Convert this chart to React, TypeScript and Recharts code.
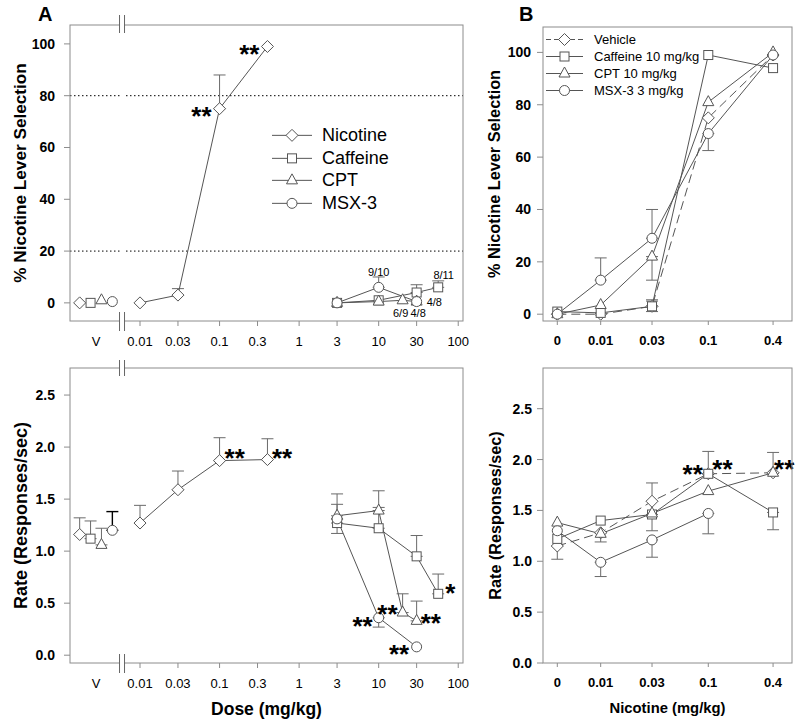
import React from 'react';
import {
  ComposedChart,
  Line,
  XAxis,
  YAxis,
  ErrorBar,
  ReferenceLine,
  ReferenceDot,
  Legend,
} from 'recharts';

type Err = [number, number] | null; // [below, above]

// ---------- Panel A: dose-effect curves ----------
const aNames = ['Nicotine', 'Caffeine', 'CPT', 'MSX-3'];

const nicotineDoses = [0.01, 0.03, 0.1, 0.4];
const caffeineDoses = [3, 10, 30, 56];
const cptDoses = [3, 10, 20, 30];
const msxDoses = [3, 10, 30];

// vehicle tests, same order as aNames
const vehicleSel = [0, 0, 1, 0.5];
const vehicleSelErr: Err[] = [null, null, null, null];
const vehicleRate = [1.16, 1.12, 1.06, 1.2];
const vehicleRateErr: Err[] = [[0, 0.16], [0, 0.17], [0, 0.16], [0, 0.18]];

const nicotineSel = [0, 3, 75, 99];
const nicotineSelErr: Err[] = [null, [0, 2.5], [0, 13], null];
const nicotineRate = [1.27, 1.59, 1.87, 1.88];
const nicotineRateErr: Err[] = [[0, 0.17], [0, 0.18], [0, 0.22], [0, 0.2]];

const caffeineSel = [0, 1, 4, 6];
const caffeineSelErr: Err[] = [null, null, [0, 3], [0, 2.5]];
const caffeineRate = [1.27, 1.22, 0.95, 0.59];
const caffeineRateErr: Err[] = [[0.1, 0], [0, 0.2], [0, 0.2], [0, 0.19]];

const cptSel = [0, 0.5, 1, 0.5];
const cptSelErr: Err[] = [null, null, null, null];
const cptRate = [1.34, 1.39, 0.41, 0.33];
const cptRateErr: Err[] = [[0, 0.11], [0, 0.19], [0, 0.18], [0, 0.19]];

const msxSel = [0, 6, 0.5];
const msxSelErr: Err[] = [null, [0, 4], null];
const msxRate = [1.31, 0.36, 0.08];
const msxRateErr: Err[] = [[0, 0.24], [0.09, 0], null];

// ---------- Panel B: nicotine after pretreatment ----------
const bNames = ['Vehicle', 'Caffeine 10 mg/kg', 'CPT 10 mg/kg', 'MSX-3 3 mg/kg'];
const nicotineTestDoses = [0, 0.01, 0.03, 0.1, 0.4];

const bVehicleSel = [0, 0, 3, 75, 99];
const bVehicleSelErr: Err[] = [null, null, [0, 2.5], null, null];
const bCaffeineSel = [1, 0.5, 3, 99, 94];
const bCaffeineSelErr: Err[] = [null, null, [2, 2], null, null];
const bCptSel = [0, 3.5, 22, 81, 100];
const bCptSelErr: Err[] = [null, null, [9, 0], null, null];
const bMsxSel = [0, 13, 29, 69, 99];
const bMsxSelErr: Err[] = [null, [0, 8.5], [0, 11], [6.5, 0], null];

const bVehicleRate = [1.15, 1.28, 1.59, 1.86, 1.87];
const bVehicleRateErr: Err[] = [[0.13, 0], [0.09, 0], [0, 0.18], null, [0, 0.2]];
const bCaffeineRate = [1.22, 1.4, 1.46, 1.86, 1.48];
const bCaffeineRateErr: Err[] = [null, null, [0.16, 0], [0, 0.22], [0.17, 0]];
const bCptRate = [1.38, 1.27, 1.47, 1.69, 1.87];
const bCptRateErr: Err[] = [null, null, null, null, null];
const bMsxRate: (number | null)[] = [1.3, 0.99, 1.21, 1.47, null];
const bMsxRateErr: Err[] = [null, [0.14, 0], [0.17, 0], [0.2, 0], null];

// ---------- ticks ----------
const doseTicks = [0.01, 0.03, 0.1, 0.3, 1, 3, 10, 30, 100];
const doseTickLabels = ['0.01', '0.03', '0.1', '0.3', '1', '3', '10', '30', '100'];
const nicTickLabels = ['0', '0.01', '0.03', '0.1', '0.4'];
const selTicks = [0, 20, 40, 60, 80, 100];
const rateTicks = [0, 0.5, 1, 1.5, 2, 2.5];
const criterionLines = [20, 80];

// ---------- annotations ----------
type Note = { series: string; dose: number; text: string; anchor: 'start' | 'middle' | 'end'; dx: number; dy: number };
const aSelNotes: Note[] = [
  { series: 'Nicotine', dose: 0.1, text: '**', anchor: 'end', dx: -8, dy: 1 },
  { series: 'Nicotine', dose: 0.4, text: '**', anchor: 'end', dx: -8, dy: 1.5 },
  { series: 'MSX-3', dose: 10, text: '9/10', anchor: 'middle', dx: 0, dy: -15.5 },
  { series: 'Caffeine', dose: 56, text: '8/11', anchor: 'middle', dx: 5.5, dy: -12.5 },
  { series: 'MSX-3', dose: 30, text: '4/8', anchor: 'start', dx: 10, dy: 0 },
  { series: 'CPT', dose: 20, text: '6/9', anchor: 'middle', dx: -2, dy: 12.5 },
  { series: 'CPT', dose: 30, text: '4/8', anchor: 'middle', dx: 1.5, dy: 11.5 },
];
const aRateNotes: Note[] = [
  { series: 'Nicotine', dose: 0.1, text: '**', anchor: 'start', dx: 5, dy: -9 },
  { series: 'Nicotine', dose: 0.4, text: '**', anchor: 'start', dx: 4.5, dy: -7.5 },
  { series: 'Caffeine', dose: 56, text: '*', anchor: 'start', dx: 7, dy: -6.5 },
  { series: 'CPT', dose: 20, text: '**', anchor: 'end', dx: -5, dy: -4.5 },
  { series: 'CPT', dose: 30, text: '**', anchor: 'start', dx: 4, dy: -4 },
  { series: 'MSX-3', dose: 10, text: '**', anchor: 'end', dx: -6, dy: 2.5 },
  { series: 'MSX-3', dose: 30, text: '**', anchor: 'end', dx: -7.5, dy: 1.5 },
];
const bRateNotes: Note[] = [
  { series: 'Vehicle', dose: 0.1, text: '**', anchor: 'end', dx: -5.5, dy: -6 },
  { series: 'Caffeine 10 mg/kg', dose: 0.1, text: '**', anchor: 'start', dx: 4, dy: -11 },
  { series: 'Vehicle', dose: 0.4, text: '**', anchor: 'start', dx: 1, dy: -10 },
];

// ---------- layout / style ----------
const FONT = '"Liberation Sans", Arial, Helvetica, sans-serif';
const INK = '#555';
const ERR = '#6a6a6a';
const FRAME = '#8c8c8c';
const STAR_SIZE = 26;

const A_X_DOMAIN: [number, number] = [-2.88, 2.06]; // log10 dose
const A_SEL_DOMAIN: [number, number] = [-7, 107.3];
const A_RATE_DOMAIN: [number, number] = [-0.075, 2.76];
const V_CENTER = -2.553;
const V_STEP = 0.137;
const BREAK_X = -2.226;

const B_X_DOMAIN: [number, number] = [-2.536, -0.222];
const B_ZERO = -2.403;
const B_SEL_DOMAIN: [number, number] = [-2.6, 109.7];
const B_RATE_DOMAIN: [number, number] = [0, 2.9];

type Box = { left: number; top: number; width: number; height: number; plot: { x: number; y: number; w: number; h: number } };
const BOX: Record<string, Box> = {
  aSel: { left: 0, top: 0, width: 470, height: 360, plot: { x: 70, y: 25, w: 393, h: 296 } },
  aRate: { left: 0, top: 360, width: 470, height: 365, plot: { x: 70, y: 8, w: 393, h: 295 } },
  bSel: { left: 470, top: 0, width: 330, height: 360, plot: { x: 73, y: 27, w: 249, h: 294 } },
  bRate: { left: 470, top: 360, width: 330, height: 365, plot: { x: 73, y: 8, w: 249, h: 295 } },
};
const xAxisHeight = (b: Box) => b.height - b.plot.y - b.plot.h;

const SHAPES = ['diamond', 'square', 'triangle', 'circle'] as const;
type Shape = (typeof SHAPES)[number];

const posA = (d: number) => Math.log10(d);
const posB = (d: number) => (d === 0 ? B_ZERO : Math.log10(d));

type Pt = { x: number; y: number | null; err: Err };
const toPoints = (xs: number[], ys: (number | null)[], errs: Err[]): Pt[] =>
  xs.map((x, i) => ({ x, y: ys[i], err: errs[i] }));

const aDoses = [nicotineDoses, caffeineDoses, cptDoses, msxDoses];
const aSelVals = [nicotineSel, caffeineSel, cptSel, msxSel];
const aSelErrs = [nicotineSelErr, caffeineSelErr, cptSelErr, msxSelErr];
const aRateVals = [nicotineRate, caffeineRate, cptRate, msxRate];
const aRateErrs = [nicotineRateErr, caffeineRateErr, cptRateErr, msxRateErr];
const bSelVals = [bVehicleSel, bCaffeineSel, bCptSel, bMsxSel];
const bSelErrs = [bVehicleSelErr, bCaffeineSelErr, bCptSelErr, bMsxSelErr];
const bRateVals = [bVehicleRate, bCaffeineRate, bCptRate, bMsxRate];
const bRateErrs = [bVehicleRateErr, bCaffeineRateErr, bCptRateErr, bMsxRateErr];

function Marker({ cx, cy, shape }: { cx: number; cy: number; shape: Shape }) {
  const p = { fill: '#fff', stroke: INK, strokeWidth: 1 };
  if (shape === 'diamond')
    return <polygon points={`${cx},${cy - 6} ${cx + 6},${cy} ${cx},${cy + 6} ${cx - 6},${cy}`} {...p} />;
  if (shape === 'square') return <rect x={cx - 4.5} y={cy - 4.5} width={9} height={9} {...p} />;
  if (shape === 'triangle')
    return <polygon points={`${cx},${cy - 6.5} ${cx + 5.5},${cy + 3.5} ${cx - 5.5},${cy + 3.5}`} {...p} />;
  return <circle cx={cx} cy={cy} r={5} {...p} />;
}

const dotOf = (shape: Shape) => (props: any) => {
  const { cx, cy, index } = props;
  if (cx == null || cy == null || Number.isNaN(cx) || Number.isNaN(cy)) return <g key={index} />;
  return (
    <g key={index}>
      <Marker cx={cx} cy={cy} shape={shape} />
    </g>
  );
};

function seriesLine(
  key: string,
  name: string,
  data: Pt[],
  shape: Shape,
  opts: { dash?: string; noLine?: boolean; legend?: boolean; errColor?: string; errWidth?: number } = {},
) {
  return (
    <Line
      key={key}
      data={data}
      dataKey="y"
      name={name}
      stroke={opts.noLine ? 'none' : INK}
      strokeWidth={1}
      strokeDasharray={opts.dash}
      dot={dotOf(shape)}
      activeDot={false}
      legendType={opts.legend ? 'line' : 'none'}
      isAnimationActive={false}
    >
      <ErrorBar
        dataKey="err"
        direction="y"
        width={6}
        stroke={opts.errColor ?? ERR}
        strokeWidth={opts.errWidth ?? 1}
        isAnimationActive={false}
      />
    </Line>
  );
}

const noteLabel = (n: Note) => (props: any) => {
  const vb = props.viewBox ?? {};
  const cx = (vb.x ?? 0) + (vb.width ?? 0) / 2;
  const cy = (vb.y ?? 0) + (vb.height ?? 0) / 2;
  const star = n.text.includes('*');
  const size = star ? STAR_SIZE : 11;
  return (
    <text
      x={cx + n.dx}
      y={cy + n.dy + (star ? 0.23 * size : 0)}
      textAnchor={n.anchor}
      dominantBaseline="central"
      fontSize={size}
      fontWeight={star ? 'bold' : 'normal'}
      fontFamily={FONT}
      fill="#000"
    >
      {n.text}
    </text>
  );
};

function notesOf(notes: Note[], names: string[], doses: number[][], vals: (number | null)[][], pos: (d: number) => number) {
  return notes.map((n, k) => {
    const s = names.indexOf(n.series);
    const i = doses[s].indexOf(n.dose);
    return (
      <ReferenceDot
        key={`note-${k}`}
        x={pos(n.dose)}
        y={vals[s][i] as number}
        r={1}
        fill="none"
        stroke="none"
        label={noteLabel(n)}
      />
    );
  });
}

const X_TICK = 5;
const X_MARGIN_A = 11;

const doseLabel = (v: number) => {
  if (Math.abs(v - V_CENTER) < 1e-6) return 'V';
  const i = doseTicks.findIndex((d) => Math.abs(posA(d) - v) < 1e-6);
  return i >= 0 ? doseTickLabels[i] : '';
};

function DoseTick(props: any) {
  const { x, y, payload } = props;
  const label = doseLabel(payload.value);
  const axisY = y - X_TICK - X_MARGIN_A;
  return (
    <g>
      {label !== 'V' && <line x1={x} x2={x} y1={axisY} y2={axisY + X_TICK} stroke={FRAME} />}
      <text x={x} y={y} dy="0.71em" textAnchor="middle" fontSize={13} fontFamily={FONT} fill="#000">
        {label}
      </text>
    </g>
  );
}

const nicLabel = (v: number) => {
  const i = nicotineTestDoses.findIndex((d) => Math.abs(posB(d) - v) < 1e-6);
  return i >= 0 ? nicTickLabels[i] : '';
};

const yTick = { fontSize: 14, fontWeight: 'bold', fill: '#000', fontFamily: FONT };

const legendContent =
  (names: string[], o: { fontSize: number; rowH: number; lineW: number; gap: number; dashFor?: string }) =>
  (props: any) => {
    const payload: any[] = props.payload ?? [];
    const shown = names.filter((n) => payload.some((p) => p.value === n));
    return (
      <div style={{ fontFamily: FONT, fontSize: o.fontSize, color: '#000' }}>
        {shown.map((n) => {
          const shape = SHAPES[names.indexOf(n)];
          const mid = o.rowH / 2;
          return (
            <div key={n} style={{ display: 'flex', alignItems: 'center', height: o.rowH, lineHeight: `${o.rowH}px` }}>
              <svg width={o.lineW} height={o.rowH} style={{ flex: 'none' }}>
                <line
                  x1={0}
                  x2={o.lineW}
                  y1={mid}
                  y2={mid}
                  stroke={INK}
                  strokeDasharray={n === o.dashFor ? '5 3' : undefined}
                />
                <Marker cx={o.lineW / 2} cy={mid} shape={shape} />
              </svg>
              <span style={{ marginLeft: o.gap, whiteSpace: 'nowrap' }}>{n}</span>
            </div>
          );
        })}
      </div>
    );
  };

function Frame({ box, xDomain, breakAt }: { box: Box; xDomain: [number, number]; breakAt?: number }) {
  const { plot } = box;
  const bx = breakAt == null ? 0 : plot.x + ((breakAt - xDomain[0]) / (xDomain[1] - xDomain[0])) * plot.w;
  const bot = plot.y + plot.h;
  return (
    <svg
      width={box.width}
      height={box.height}
      style={{ position: 'absolute', left: 0, top: 0, pointerEvents: 'none' }}
    >
      <rect x={plot.x} y={plot.y} width={plot.w} height={plot.h} fill="none" stroke={FRAME} strokeWidth={1} />
      {breakAt != null && (
        <g stroke="#666" strokeWidth={1}>
          <rect x={bx - 2} y={plot.y - 9} width={4} height={plot.h + 18} fill="#fff" stroke="none" />
          <line x1={bx - 2.5} x2={bx - 2.5} y1={plot.y - 10} y2={plot.y + 8} />
          <line x1={bx + 2.5} x2={bx + 2.5} y1={plot.y - 10} y2={plot.y + 8} />
          <line x1={bx - 2.5} x2={bx - 2.5} y1={bot - 9} y2={bot + 10} />
          <line x1={bx + 2.5} x2={bx + 2.5} y1={bot - 9} y2={bot + 10} />
        </g>
      )}
    </svg>
  );
}

function ChartPanel({
  box,
  xDomain,
  breakAt,
  children,
}: {
  box: Box;
  xDomain: [number, number];
  breakAt?: number;
  children: React.ReactNode;
}) {
  const { plot } = box;
  return (
    <div style={{ position: 'absolute', left: box.left, top: box.top, width: box.width, height: box.height }}>
      <ComposedChart
        width={box.width}
        height={box.height}
        margin={{ top: plot.y, right: box.width - plot.x - plot.w, bottom: 0, left: 0 }}
      >
        {children}
      </ComposedChart>
      <Frame box={box} xDomain={xDomain} breakAt={breakAt} />
    </div>
  );
}

const aXTicks = [V_CENTER, ...doseTicks.map(posA)];
const bXTicks = nicotineTestDoses.map(posB);
const vehicleX = (i: number) => V_CENTER + (i - 1.5) * V_STEP;

function panelASeries(vals: number[][], errs: Err[][], vVals: number[], vErrs: Err[], legend: boolean) {
  const out: React.ReactNode[] = [];
  aNames.forEach((n, s) => {
    out.push(
      seriesLine(`v-${n}`, `Vehicle ${n}`, toPoints([vehicleX(s)], [vVals[s]], [vErrs[s]]), SHAPES[s], {
        noLine: true,
        errColor: s === 3 ? '#000' : ERR,
        errWidth: s === 3 ? 1.4 : 1,
      }),
    );
  });
  aNames.forEach((n, s) => {
    out.push(seriesLine(`a-${n}`, n, toPoints(aDoses[s].map(posA), vals[s], errs[s]), SHAPES[s], { legend }));
  });
  return out;
}

function panelBSeries(vals: (number | null)[][], errs: Err[][], legend: boolean) {
  return bNames.map((n, s) =>
    seriesLine(`b-${n}`, n, toPoints(bXTicks, vals[s], errs[s]), SHAPES[s], {
      legend,
      dash: s === 0 ? '9 5' : undefined,
    }),
  );
}

export default function App() {
  const bDoses = bNames.map(() => nicotineTestDoses);
  return (
    <div
      style={{
        position: 'absolute',
        left: 0,
        top: 0,
        width: 800,
        height: 725,
        background: '#fff',
        fontFamily: FONT,
      }}
    >
      <div style={{ position: 'absolute', left: 38, top: 3, fontSize: 20, fontWeight: 'bold' }}>A</div>
      <div style={{ position: 'absolute', left: 519, top: 3, fontSize: 20, fontWeight: 'bold' }}>B</div>

      {/* A: % nicotine lever selection */}
      <ChartPanel box={BOX.aSel} xDomain={A_X_DOMAIN} breakAt={BREAK_X}>
        <XAxis
          dataKey="x"
          type="number"
          domain={A_X_DOMAIN}
          allowDataOverflow
          ticks={aXTicks}
          interval={0}
          tick={DoseTick}
          tickLine={false}
          axisLine={false}
          tickSize={X_TICK}
          tickMargin={X_MARGIN_A}
          height={xAxisHeight(BOX.aSel)}
        />
        <YAxis
          type="number"
          domain={A_SEL_DOMAIN}
          allowDataOverflow
          ticks={selTicks}
          interval={0}
          width={BOX.aSel.plot.x}
          tickSize={6}
          tickMargin={9}
          axisLine={false}
          tickLine={{ stroke: FRAME }}
          tick={yTick}
          label={{
            value: '% Nicotine Lever Selection',
            angle: -90,
            position: 'insideLeft',
            offset: 19.5,
            style: { textAnchor: 'middle', fontWeight: 'bold', fontSize: 17.2, fill: '#000', fontFamily: FONT },
          }}
        />
        {criterionLines.map((v) => (
          <ReferenceLine key={v} y={v} stroke="#000" strokeDasharray="1.5 2.5" strokeWidth={1} />
        ))}
        {panelASeries(aSelVals, aSelErrs, vehicleSel, vehicleSelErr, true)}
        {notesOf(aSelNotes, aNames, aDoses, aSelVals, posA)}
        <Legend
          layout="vertical"
          align="center"
          verticalAlign="middle"
          wrapperStyle={{ left: 272, top: 124, width: 'auto' }}
          content={legendContent(aNames, { fontSize: 18, rowH: 22.7, lineW: 40, gap: 10 })}
        />
      </ChartPanel>

      {/* A: response rate */}
      <ChartPanel box={BOX.aRate} xDomain={A_X_DOMAIN} breakAt={BREAK_X}>
        <XAxis
          dataKey="x"
          type="number"
          domain={A_X_DOMAIN}
          allowDataOverflow
          ticks={aXTicks}
          interval={0}
          tick={DoseTick}
          tickLine={false}
          axisLine={false}
          tickSize={X_TICK}
          tickMargin={X_MARGIN_A}
          height={xAxisHeight(BOX.aRate)}
          label={{
            value: 'Dose (mg/kg)',
            position: 'insideBottom',
            offset: 10,
            style: { fontWeight: 'bold', fontSize: 17.5, fill: '#000', fontFamily: FONT },
          }}
        />
        <YAxis
          type="number"
          domain={A_RATE_DOMAIN}
          allowDataOverflow
          ticks={rateTicks}
          interval={0}
          width={BOX.aRate.plot.x}
          tickSize={6}
          tickMargin={9}
          axisLine={false}
          tickLine={{ stroke: FRAME }}
          tick={yTick}
          tickFormatter={(v: number) => v.toFixed(1)}
          label={{
            value: 'Rate (Responses/sec)',
            angle: -90,
            position: 'insideLeft',
            offset: 20.5,
            style: { textAnchor: 'middle', fontWeight: 'bold', fontSize: 18, fill: '#000', fontFamily: FONT },
          }}
        />
        {panelASeries(aRateVals, aRateErrs, vehicleRate, vehicleRateErr, false)}
        {notesOf(aRateNotes, aNames, aDoses, aRateVals, posA)}
      </ChartPanel>

      {/* B: % nicotine lever selection */}
      <ChartPanel box={BOX.bSel} xDomain={B_X_DOMAIN}>
        <XAxis
          dataKey="x"
          type="number"
          domain={B_X_DOMAIN}
          allowDataOverflow
          ticks={bXTicks}
          interval={0}
          tickFormatter={nicLabel}
          tick={{ fontSize: 13, fontWeight: 'bold', fill: '#000', fontFamily: FONT }}
          tickLine={{ stroke: FRAME }}
          axisLine={false}
          tickSize={4}
          tickMargin={11}
          height={xAxisHeight(BOX.bSel)}
        />
        <YAxis
          type="number"
          domain={B_SEL_DOMAIN}
          allowDataOverflow
          ticks={selTicks}
          interval={0}
          width={BOX.bSel.plot.x}
          tickSize={6}
          tickMargin={6}
          axisLine={false}
          tickLine={{ stroke: FRAME }}
          tick={yTick}
          label={{
            value: '% Nicotine Lever Selection',
            angle: -90,
            position: 'insideLeft',
            offset: 24,
            style: { textAnchor: 'middle', fontWeight: 'bold', fontSize: 16.3, fill: '#000', fontFamily: FONT },
          }}
        />
        {panelBSeries(bSelVals, bSelErrs, true)}
        <Legend
          layout="vertical"
          align="center"
          verticalAlign="middle"
          wrapperStyle={{ left: 76, top: 30.5, width: 'auto' }}
          content={legendContent(bNames, { fontSize: 13, rowH: 17, lineW: 37, gap: 11, dashFor: 'Vehicle' })}
        />
      </ChartPanel>

      {/* B: response rate */}
      <ChartPanel box={BOX.bRate} xDomain={B_X_DOMAIN}>
        <XAxis
          dataKey="x"
          type="number"
          domain={B_X_DOMAIN}
          allowDataOverflow
          ticks={bXTicks}
          interval={0}
          tickFormatter={nicLabel}
          tick={{ fontSize: 13, fontWeight: 'bold', fill: '#000', fontFamily: FONT }}
          tickLine={{ stroke: FRAME }}
          axisLine={false}
          tickSize={4}
          tickMargin={11}
          height={xAxisHeight(BOX.bRate)}
          label={{
            value: 'Nicotine (mg/kg)',
            position: 'insideBottom',
            offset: 12,
            style: { fontWeight: 'bold', fontSize: 14.8, fill: '#000', fontFamily: FONT },
          }}
        />
        <YAxis
          type="number"
          domain={B_RATE_DOMAIN}
          allowDataOverflow
          ticks={rateTicks}
          interval={0}
          width={BOX.bRate.plot.x}
          tickSize={6}
          tickMargin={5}
          axisLine={false}
          tickLine={{ stroke: FRAME }}
          tick={yTick}
          tickFormatter={(v: number) => v.toFixed(1)}
          label={{
            value: 'Rate (Responses/sec)',
            angle: -90,
            position: 'insideLeft',
            offset: 25.5,
            style: { textAnchor: 'middle', fontWeight: 'bold', fontSize: 16.2, fill: '#000', fontFamily: FONT },
          }}
        />
        {panelBSeries(bRateVals, bRateErrs, false)}
        {notesOf(bRateNotes, bNames, bDoses, bRateVals, posB)}
      </ChartPanel>
    </div>
  );
}
